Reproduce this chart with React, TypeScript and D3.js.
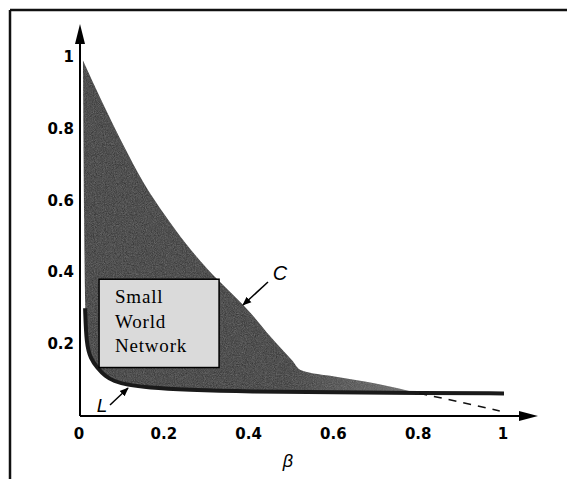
import * as d3 from 'd3'

// clustering coefficient C(beta), normalised
const cBeta = [0.007, 0.05, 0.1, 0.15, 0.2, 0.25, 0.3, 0.35, 0.4, 0.45, 0.5, 0.52, 0.6, 0.7, 0.8]
const cVal = [0.99, 0.88, 0.76, 0.65, 0.56, 0.48, 0.41, 0.35, 0.29, 0.22, 0.155, 0.128, 0.11, 0.09, 0.063]

// dashed continuation of C below L
const cTailBeta = [0.8, 0.9, 0.99]
const cTailVal = [0.063, 0.038, 0.014]

// path length L(beta), normalised
const lBeta = [0.007, 0.01, 0.012, 0.015, 0.025, 0.04, 0.06, 0.08, 0.11, 0.16, 0.25, 0.4, 0.6, 0.8, 1.0]
const lVal = [0.99, 0.5, 0.3, 0.2, 0.16, 0.135, 0.11, 0.097, 0.087, 0.079, 0.073, 0.068, 0.066, 0.064, 0.063]

const xTicks = [0, 0.2, 0.4, 0.6, 0.8, 1]
const yTicks = [0.2, 0.4, 0.6, 0.8, 1]
const boxLines = ['Small', 'World', 'Network']

const W = 567
const H = 479

export default function App() {
  const x = d3.scaleLinear().domain([0, 1]).range([80, 504])
  const y = d3.scaleLinear().domain([0, 1]).range([416, 57])

  const cPts: [number, number][] = cBeta.map((b, i) => [b, cVal[i]])
  const lPts: [number, number][] = lBeta.map((b, i) => [b, lVal[i]])
  const tailPts: [number, number][] = cTailBeta.map((b, i) => [b, cTailVal[i]])

  const cLine = d3
    .line<[number, number]>()
    .x((d) => x(d[0]))
    .y((d) => y(d[1]))
    .curve(d3.curveMonotoneX)

  const lCurve = d3
    .line<[number, number]>()
    .x((d) => x(d[0]))
    .y((d) => y(d[1]))
    .curve(d3.curveBasis)

  // shaded region: C on top, L underneath (only up to where they meet)
  const lUnder = lPts.filter((d) => d[0] <= 0.8).slice().reverse()
  const lBack = lCurve(lUnder) || ''
  const region = (cLine(cPts) || '') + 'L' + lBack.slice(1) + 'Z'

  const sans = 'Liberation Sans, Arial, sans-serif'
  const tickFont = 'DejaVu Sans, Verdana, sans-serif'

  return (
    <svg
      width={W}
      height={H}
      style={{ position: 'absolute', left: 0, top: 0, background: '#fff' }}
    >
      <defs>
        <marker id="ah" viewBox="0 0 10 10" refX="9" refY="5" markerWidth="6" markerHeight="6" orient="auto">
          <path d="M0,1 L10,5 L0,9 Z" fill="#000" />
        </marker>
        <linearGradient id="shade" gradientUnits="userSpaceOnUse" x1={x(0.48)} y1={0} x2={x(0.8)} y2={0}>
          <stop offset="0" stopColor="#303030" />
          <stop offset="1" stopColor="#6e6e6e" />
        </linearGradient>
        <filter id="grain" x="0" y="0" width="100%" height="100%">
          <feTurbulence type="fractalNoise" baseFrequency="1.1" numOctaves="2" seed="3" result="n" />
          <feColorMatrix type="saturate" values="0" in="n" result="g" />
          <feComponentTransfer in="g" result="g2">
            <feFuncA type="linear" slope="0.22" />
          </feComponentTransfer>
          <feComposite in="g2" in2="SourceGraphic" operator="in" result="t" />
          <feMerge>
            <feMergeNode in="SourceGraphic" />
            <feMergeNode in="t" />
          </feMerge>
        </filter>
      </defs>

      {/* frame (top & left edges visible) */}
      <line x1={10} y1={10} x2={W} y2={10} stroke="#111" strokeWidth={2.5} />
      <line x1={10} y1={10} x2={10} y2={H} stroke="#111" strokeWidth={2.5} />

      {/* shaded area between C and L */}
      <path d={region} fill="url(#shade)" filter="url(#grain)" />

      {/* L curve */}
      <path d={lCurve(lPts.filter((d) => d[0] >= 0.012)) || ''} fill="none" stroke="#1a1a1a" strokeWidth={4} />
      <path d={cLine(tailPts) || ''} fill="none" stroke="#111" strokeWidth={1.5} strokeDasharray="8,7" />

      {/* axes */}
      <line x1={x(0)} y1={y(0)} x2={x(0)} y2={30} stroke="#000" strokeWidth={2} />
      <path d={`M${x(0)},24 L${x(0) - 5},44 L${x(0) + 5},44 Z`} fill="#000" />
      <line x1={x(0)} y1={y(0)} x2={522} y2={y(0)} stroke="#000" strokeWidth={2} />
      <path d={`M538,${y(0)} L519,${y(0) - 5} L519,${y(0) + 5} Z`} fill="#000" />

      {yTicks.map((t) => (
        <text
          key={'y' + t}
          x={74}
          y={y(t) + 5}
          textAnchor="end"
          fontFamily={tickFont}
          fontWeight="bold"
          fontSize={15}
        >
          {String(t)}
        </text>
      ))}
      {xTicks.map((t) => (
        <text
          key={'x' + t}
          x={x(t) - 1}
          y={439}
          textAnchor="middle"
          fontFamily={tickFont}
          fontWeight="bold"
          fontSize={15}
        >
          {String(t)}
        </text>
      ))}
      <text x={288} y={467} textAnchor="middle" fontFamily={sans} fontStyle="italic" fontSize={18}>
        β
      </text>

      {/* annotation box */}
      <rect
        x={x(0.045)}
        y={y(0.381)}
        width={x(0.328) - x(0.045)}
        height={y(0.135) - y(0.381)}
        fill="#dadada"
        stroke="#000"
        strokeWidth={1.5}
      />
      {boxLines.map((s, i) => (
        <text
          key={s}
          x={115}
          y={303 + i * 24.5}
          fontFamily="Liberation Serif, Times New Roman, serif"
          fontSize={19}
          letterSpacing={0.8}
        >
          {s}
        </text>
      ))}

      {/* C label */}
      <text x={280} y={280} textAnchor="middle" fontFamily={sans} fontStyle="italic" fontSize={20}>
        C
      </text>
      <line x1={268} y1={282} x2={243} y2={305} stroke="#000" strokeWidth={1.5} markerEnd="url(#ah)" />

      {/* L label */}
      <text x={102} y={412} textAnchor="middle" fontFamily={sans} fontStyle="italic" fontSize={19}>
        L
      </text>
      <line x1={110} y1={405} x2={128} y2={388} stroke="#000" strokeWidth={1.5} markerEnd="url(#ah)" />
    </svg>
  )
}
